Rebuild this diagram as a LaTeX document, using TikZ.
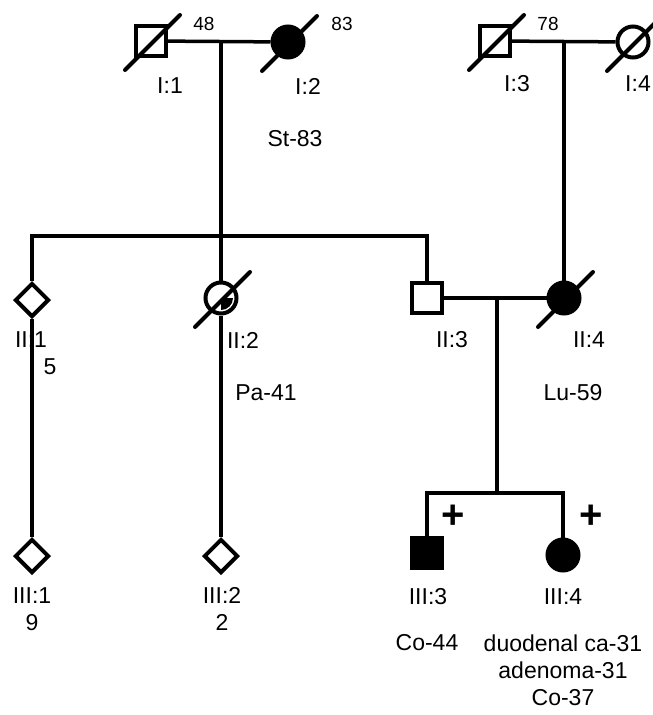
\documentclass[tikz,border=0pt]{standalone}
\usepackage{fontspec}
\setmainfont{Liberation Sans}
\usepackage{tikz}
\usetikzlibrary{shapes.geometric}

\begin{document}
\begin{tikzpicture}[x=1pt,y=-1pt]
\tikzstyle{male} =[rectangle,draw,line width=4pt,minimum size=30pt,inner sep=0pt]
\tikzstyle{female} =[circle,draw,line width=4pt,minimum size=31pt,inner sep=0pt]
\tikzstyle{unknown} =[diamond,draw,line width=4pt,minimum size=34pt,inner sep=0pt]
\tikzstyle{tag} =[font=\fontsize{23}{27}\selectfont,align=center,inner sep=0pt]
\tikzstyle{age} =[font=\fontsize{19}{22}\selectfont,inner sep=0pt]
\tikzstyle{carrier} =[font=\fontsize{40}{40}\selectfont\bfseries,inner sep=0pt]
\tikzstyle{link} =[line width=3.5pt]
\tikzstyle{dead} =[line width=4pt,line cap=round]

\useasboundingbox (0,0) rectangle (653,715);
\clip (0,0) rectangle (653,715);

% generation I
\node[male](i1) at (151,41){};
\node[female,fill=black](i2) at (288,42){};
\node[male](i3) at (495,41){};
\node[female](i4) at (633,42){};
\node[tag](t1) at (170,86){I:1};
\node[tag](t2) at (308,86){I:2};
\node[tag](t3) at (517,84){I:3};
\node[tag](t4) at (638,84){I:4};
\node[age](a1) at (204,24){48};
\node[age](a2) at (342,24){83};
\node[age](a3) at (548,24){78};
\node[tag](d2) at (295,139){St-83};

% generation II
\node[unknown](ii1) at (32,300){};
\node[female](ii2) at (221,298){};
\fill ([xshift=12pt]ii2.center) arc (0:-90:12pt) -- (ii2.center) -- cycle;
\node[male](ii3) at (427,298){};
\node[female,fill=black](ii4) at (564,298){};
\node[tag](t5) at (31,340){II:1};
\node[tag](t6) at (243,340){II:2};
\node[tag](t7) at (452,340){II:3};
\node[tag](t8) at (589,340){II:4};
\node[tag](n5) at (50,367){5};
\node[tag](d6) at (266,393){Pa-41};
\node[tag](d8) at (573,393){Lu-59};

% generation III
\node[unknown](iii1) at (32,556){};
\node[unknown](iii2) at (221,556){};
\node[male,fill=black](iii3) at (427,553){};
\node[female,fill=black](iii4) at (563,555){};
\node[tag,anchor=north](t9) at (32,587){III:1\\9};
\node[tag,anchor=north](t10) at (222,587){III:2\\2};
\node[tag](t11) at (428,597){III:3};
\node[tag](t12) at (563,597){III:4};
\node[carrier](c11) at (453,517){+};
\node[carrier](c12) at (591,517){+};
\node[tag](d11) at (427,643){Co-44};
\node[tag,anchor=north](d12) at (563,635){duodenal ca-31\\adenoma-31\\Co-37};

% lines of descent
\coordinate (m1) at (221,42);
\coordinate (m2) at (564,42);
\coordinate (m3) at (497,298);
\coordinate (s1) at (221,236);
\coordinate (s1l) at (32,236);
\coordinate (s1r) at (427,236);
\coordinate (s3) at (497,493);
\coordinate (s3l) at (427,493);
\coordinate (s3r) at (563,493);

\draw[link] (i1) -- (i2);
\draw[link] (i3) -- (i4);
\draw[link] (m1) -- (s1);
\draw[link] (ii1) -- (s1l) -- (s1r) -- (ii3);
\draw[link] (s1) -- (ii2);
\draw[link] (m2) -- (ii4);
\draw[link] (ii3) -- (ii4);
\draw[link] (ii1) -- (iii1);
\draw[link] (ii2) -- (iii2);
\draw[link] (m3) -- (s3);
\draw[link] (iii3) -- (s3l) -- (s3r) -- (iii4);

\foreach \p in {i1,i2,i3,i4,ii2,ii4}
  \draw[dead] ([shift={(-26,29)}]\p.center) -- ([shift={(29,-26)}]\p.center);
\end{tikzpicture}
\end{document}
